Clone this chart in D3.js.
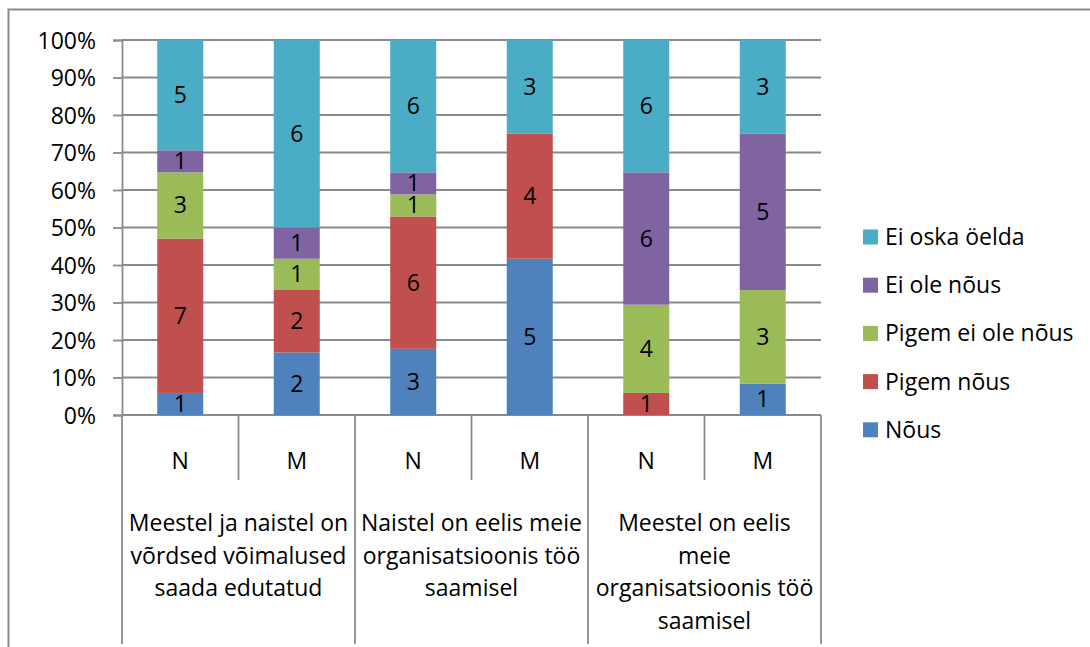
<!DOCTYPE html>
<html>
<head>
<meta charset="utf-8">
<script src="https://cdn.jsdelivr.net/npm/d3@7"></script>
<style>
  html, body { margin: 0; padding: 0; background: #fff; }
  svg { display: block; }
  text { font-family: "Open Sans", sans-serif; fill: #000; }
</style>
</head>
<body>
<svg id="chart" width="1090" height="647"></svg>
<script>
// ---- data ----
const categories = ["N", "M", "N", "M", "N", "M"];
const groupLabels = [
  ["Meestel ja naistel on", "võrdsed võimalused", "saada edutatud"],
  ["Naistel on eelis meie", "organisatsioonis töö", "saamisel"],
  ["Meestel on eelis", "meie", "organisatsioonis töö", "saamisel"]
];
const seriesNames = ["Nõus", "Pigem nõus", "Pigem ei ole nõus", "Ei ole nõus", "Ei oska öelda"];
const nous          = [1, 2, 3, 5, 0, 1];
const pigemNous     = [7, 2, 6, 4, 1, 0];
const pigemEiOleNous = [3, 1, 1, 0, 4, 3];
const eiOleNous     = [1, 1, 1, 0, 6, 5];
const eiOskaOelda   = [5, 6, 6, 3, 6, 3];
const yTicks = [0, 0.1, 0.2, 0.3, 0.4, 0.5, 0.6, 0.7, 0.8, 0.9, 1.0];
const colors = ["#4F81BD", "#C0504D", "#9BBB59", "#8064A2", "#4BACC6"];

// ---- build table ----
const seriesValues = [nous, pigemNous, pigemEiOleNous, eiOleNous, eiOskaOelda];
const table = categories.map((c, i) => {
  const row = { idx: i, cat: c };
  seriesNames.forEach((s, k) => row[s] = seriesValues[k][i]);
  return row;
});

const svg = d3.select("#chart");
const gridColor = "#8a8a8a";

// outer frame (cropped on right/bottom)
svg.append("path")
  .attr("d", "M8.5,650 V9.5 H1095")
  .attr("fill", "none").attr("stroke", gridColor).attr("stroke-width", 2);

const pLeft = 122, pRight = 821, pTop = 40, pBottom = 415;
const x = d3.scaleBand().domain(d3.range(categories.length))
  .range([pLeft, pRight]).paddingInner(0.605).paddingOuter(0.3025);
const y = d3.scaleLinear().domain([0, 1]).range([pBottom, pTop]);

// gridlines
svg.append("g").selectAll("line").data(yTicks).join("line")
  .attr("x1", pLeft).attr("x2", pRight)
  .attr("y1", d => y(d)).attr("y2", d => y(d))
  .attr("stroke", gridColor).attr("stroke-width", 1.8);

// y axis
const yAxis = d3.axisLeft(y).tickValues(yTicks).tickFormat(d3.format(".0%"))
  .tickSize(9).tickPadding(17);
const gy = svg.append("g").attr("transform", `translate(${pLeft},0)`).call(yAxis);
gy.select(".domain").attr("stroke", gridColor).attr("stroke-width", 1.8);
gy.selectAll(".tick line").attr("stroke", gridColor).attr("stroke-width", 1.8);
gy.selectAll(".tick text").attr("font-size", 23).attr("font-family", "Open Sans")
  .attr("fill", "#000").attr("dy", "0.35em");

// stacked bars
const stack = d3.stack().keys(seriesNames).offset(d3.stackOffsetExpand);
const stacked = stack(table);

const layers = svg.append("g").selectAll("g").data(stacked).join("g")
  .attr("fill", (d, i) => colors[i]);
layers.selectAll("rect").data(d => d).join("rect")
  .attr("x", d => x(d.data.idx))
  .attr("width", x.bandwidth())
  .attr("y", d => y(d[1]))
  .attr("height", d => y(d[0]) - y(d[1]));

// data labels
stacked.forEach((layer) => {
  svg.append("g").selectAll("text").data(layer.filter(d => d.data[layer.key] > 0)).join("text")
    .attr("x", d => x(d.data.idx) + x.bandwidth() / 2)
    .attr("y", d => y((d[0] + d[1]) / 2))
    .attr("dy", "0.35em")
    .attr("text-anchor", "middle")
    .attr("font-size", 23)
    .text(d => d.data[layer.key]);
});

// category axis: separators
const step = x.step();
const catBounds = d3.range(categories.length + 1);
svg.append("g").selectAll("line").data(catBounds).join("line")
  .attr("x1", i => pLeft + i * step).attr("x2", i => pLeft + i * step)
  .attr("y1", pBottom)
  .attr("y2", i => (i % 2 === 0) ? 644 : 480)
  .attr("stroke", gridColor).attr("stroke-width", 1.8);

// N / M labels
svg.append("g").selectAll("text").data(categories).join("text")
  .attr("x", (d, i) => x(i) + x.bandwidth() / 2)
  .attr("y", 461)
  .attr("dy", "0.35em")
  .attr("text-anchor", "middle")
  .attr("font-size", 23)
  .text(d => d);

// group labels
groupLabels.forEach((lines, g) => {
  const cx = pLeft + (g * 2 + 1) * step;
  svg.append("g").selectAll("text").data(lines).join("text")
    .attr("x", cx)
    .attr("y", (d, j) => 523 + j * 32.5)
    .attr("dy", "0.35em")
    .attr("text-anchor", "middle")
    .attr("font-size", 23)
    .text(d => d);
});

// legend (top to bottom: reverse series order)
const legendItems = seriesNames.map((s, i) => ({ name: s, color: colors[i] })).reverse();
const lg = svg.append("g").selectAll("g").data(legendItems).join("g")
  .attr("transform", (d, i) => `translate(863,${237 + i * 48.2})`);
lg.append("rect").attr("x", 0).attr("y", -7.5).attr("width", 15).attr("height", 15)
  .attr("fill", d => d.color);
lg.append("text").attr("x", 22).attr("y", 0).attr("dy", "0.35em")
  .attr("font-size", 23).text(d => d.name);
</script>
</body>
</html>
